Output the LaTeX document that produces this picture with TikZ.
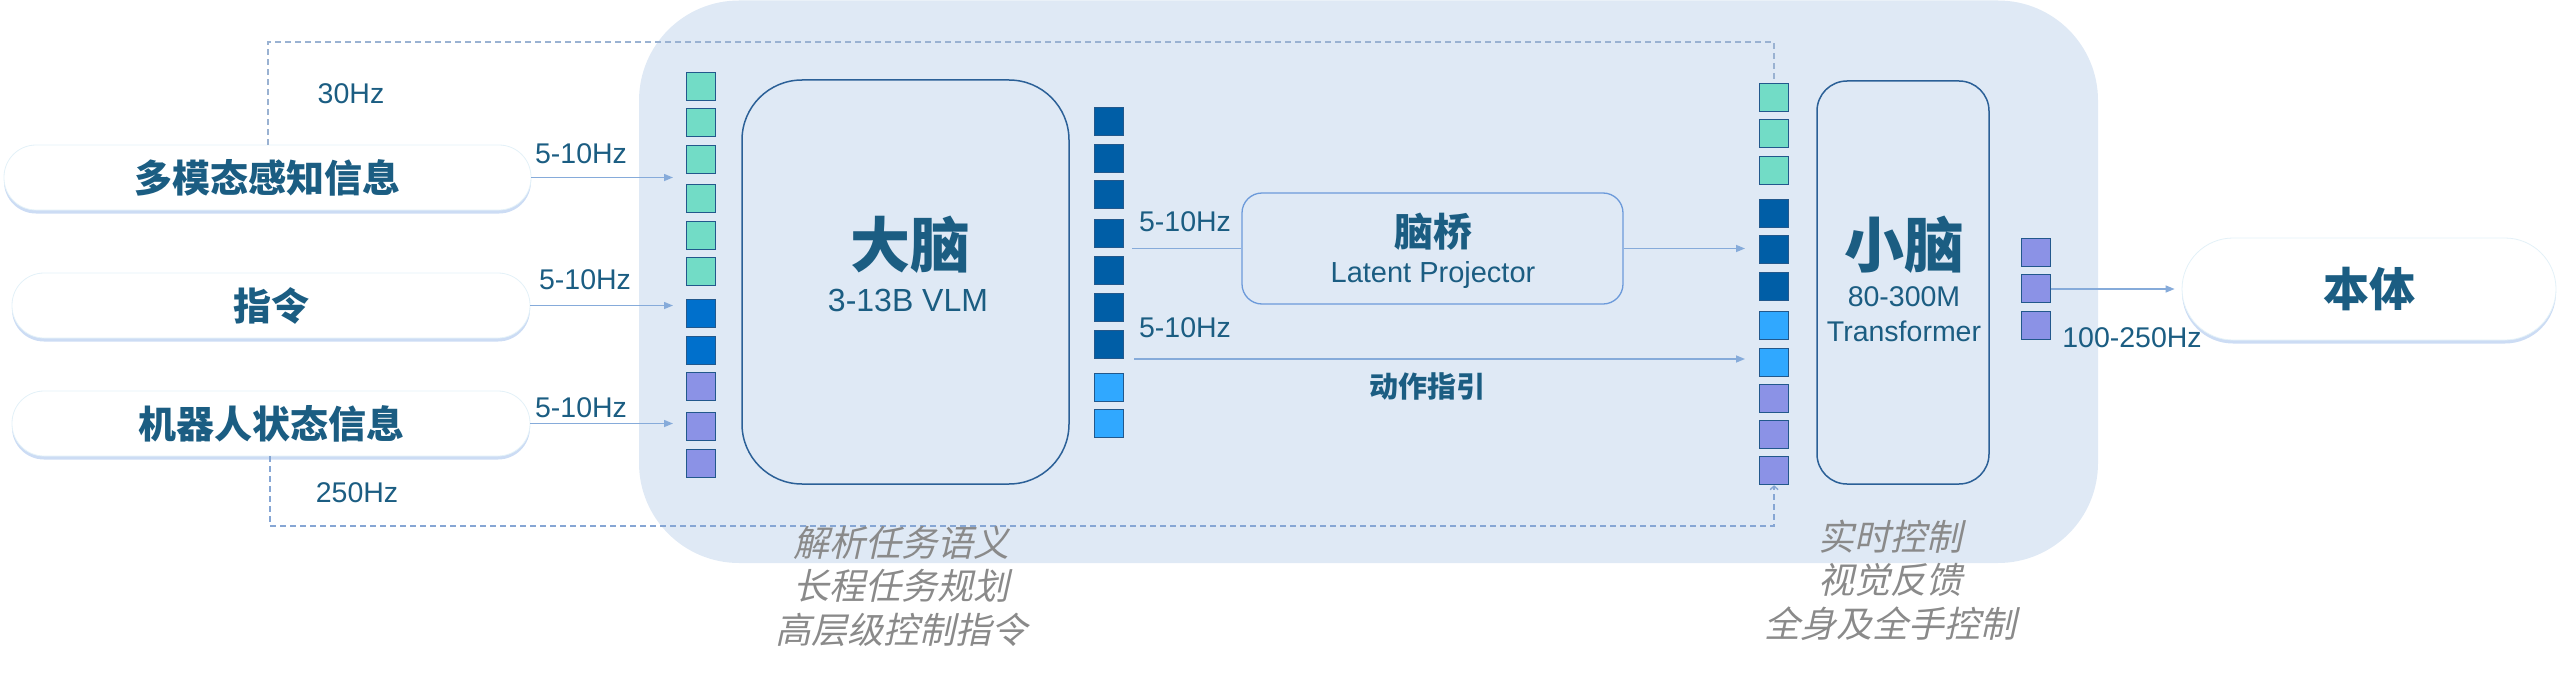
\documentclass[tikz,border=0pt]{standalone}
\usepackage{fontspec}
\setmainfont{Liberation Sans}
\newfontfamily\cjk{Noto Sans CJK SC}
\newfontfamily\cjksl{Noto Sans CJK SC}[FakeSlant=0.22]
\usetikzlibrary{arrows.meta,shadows}
\definecolor{bgc}{HTML}{DFE9F5}
\definecolor{tc}{HTML}{1B5D82}
\definecolor{cteal}{HTML}{72DCC6}
\definecolor{cblue}{HTML}{0070CC}
\definecolor{cpurp}{HTML}{8B92E6}
\definecolor{cdark}{HTML}{005EA6}
\definecolor{clight}{HTML}{30A8FF}
\definecolor{sqb}{HTML}{22588C}
\definecolor{linec}{HTML}{86ABDA}
\definecolor{dasht}{HTML}{9AB2D2}
\definecolor{dashb}{HTML}{86A6D4}
\definecolor{boxc}{HTML}{2B6097}
\definecolor{bridgec}{HTML}{6C9ADA}
\definecolor{greyt}{HTML}{8A8A8A}
\definecolor{pillb}{HTML}{E3F1F8}
\definecolor{shc}{HTML}{CCDCF4}
\begin{document}
\begin{tikzpicture}[x=1pt,y=-1pt,
  sq/.style={draw=sqb, line width=1.2pt, minimum width=29pt, minimum height=28pt, inner sep=0pt, anchor=north west},
  pill/.style={fill=white, draw=pillb, line width=0.8pt, rounded corners=32pt, inner sep=0pt,
    drop shadow={shadow xshift=0pt, shadow yshift=-3.5pt, fill=shc, opacity=1},
    text=tc, font=\cjk\bfseries\fontsize{38}{44}\selectfont},
  lab/.style={text=tc, inner sep=0pt, anchor=base, font=\fontsize{28.5}{34}\selectfont},
  cjkt/.style={text=tc, inner sep=0pt, font=\cjk\bfseries\fontsize{#1}{#1}\selectfont},
  desc/.style={text=greyt, inner sep=0pt, align=center, font=\cjksl\fontsize{36}{43.5}\selectfont},
  arr/.style={draw=linec, line width=1.4pt, -{Triangle[length=9pt,width=7pt]}},
  plain/.style={draw=linec, line width=1.4pt},
  dashl/.style={line width=1.4pt, dash pattern=on 6pt off 4pt},
  bigbox/.style={draw=boxc, line width=1.5pt, inner sep=0pt}
]
\useasboundingbox (0,0) rectangle (2560,677);
% background panel
\fill[bgc, rounded corners=100pt] (639,0.5) rectangle (2098,563);

% pills
\node[pill, minimum width=527pt, minimum height=65pt] (p1) at (267.5,177.5) {多模态感知信息};
\node[pill, minimum width=518pt, minimum height=65pt] (p2) at (271,305.5) {指令};
\node[pill, minimum width=518pt, minimum height=65pt] (p3) at (271,423.5) {机器人状态信息};
\node[pill, minimum width=374pt, minimum height=102pt, rounded corners=51pt,
      font=\cjk\bfseries\fontsize{46}{50}\selectfont] (body) at (2369,289) {本体};

% square columns
\foreach \t/\c [count=\i] in {72/cteal,108/cteal,145/cteal,184/cteal,221/cteal,257/cteal,299/cblue,336/cblue,372/cpurp,412/cpurp,449/cpurp}
  {\node[sq, fill=\c] (lq\i) at (686,\t) {};}
\foreach \t/\c [count=\i] in {107/cdark,144/cdark,180/cdark,219/cdark,256/cdark,293/cdark,330/cdark,373/clight,409/clight}
  {\node[sq, fill=\c] (bq\i) at (1094,\t) {};}
\foreach \t/\c [count=\i] in {83/cteal,119/cteal,156/cteal,199/cdark,235/cdark,272/cdark,311/clight,348/clight,384/cpurp,420/cpurp,456/cpurp}
  {\node[sq, fill=\c] (sq\i) at (1759,\t) {};}
\foreach \t [count=\i] in {238,274,311}
  {\node[sq, fill=cpurp] (oq\i) at (2021,\t) {};}

% dashed feedback lines
\coordinate (dt) at (268,42);
\coordinate (db) at (270,526);
\draw[dashl, draw=dasht] (p1.north -| dt) -- (dt) -- (dt -| sq1.north) -- (sq1.north);
\draw[dashl, draw=dashb, -{Straight Barb[length=3.5pt,width=8pt]}] (p3.south -| db) -- (db) -- (db -| sq11.south) -- (sq11.south);

% boxes
\node[bigbox, rounded corners=60pt, minimum width=327pt, minimum height=404pt] (brain) at (905.5,282) {};
\node[cjkt=60] (brainT) at (910,245) {大脑};
\node[lab, font=\fontsize{32}{38}\selectfont] (brainS) at (908,311) {3-13B VLM};

\node[draw=bridgec, line width=1.3pt, rounded corners=20pt, minimum width=381pt, minimum height=111pt, inner sep=0pt] (bridge) at (1432.5,248.5) {};
\node[cjkt=39] (bridgeT) at (1433,232) {脑桥};
\node[lab, font=\fontsize{29}{34}\selectfont] (bridgeS) at (1433,282) {Latent Projector};

\node[bigbox, rounded corners=30pt, minimum width=172pt, minimum height=403pt] (cereb) at (1903,282.5) {};
\node[cjkt=60] (cerebT) at (1904,245) {小脑};
\node[lab] (cerebS1) at (1904,306) {80-300M};
\node[lab] (cerebS2) at (1904,341) {Transformer};

% connectors
\draw[arr, shorten >=13pt] (p1.east) -- (p1.east -| lq1.west);
\draw[arr, shorten >=13pt] (p2.east) -- (p2.east -| lq1.west);
\draw[arr, shorten >=13pt] (p3.east) -- (p3.east -| lq1.west);
\draw[plain, shorten <=8pt] (bridge.west -| bq1.east) -- (bridge.west);
\draw[arr, shorten >=14pt] (bridge.east) -- (bridge.east -| sq1.west);
\coordinate (gy) at (0,359);
\draw[arr, shorten <=10pt, shorten >=14pt] (bq1.east |- gy) -- (sq1.west |- gy);
\draw[arr, shorten >=7pt] (oq2.east |- body.west) -- (body.west);

% labels
\node[lab] (f30) at (351,103) {30Hz};
\node[lab] (f250) at (357,502) {250Hz};
\node[lab] (fa) at (581,163) {5-10Hz};
\node[lab] (fb) at (585,289) {5-10Hz};
\node[lab] (fc) at (581,417) {5-10Hz};
\node[lab] (fd) at (1185,231) {5-10Hz};
\node[lab] (fe) at (1185,337) {5-10Hz};
\node[lab] (fout) at (2132,347) {100-250Hz};
\node[cjkt=29] (guide) at (1427,386) {动作指引};

% descriptions
\node[desc] (brainD) at (901,586) {解析任务语义\\长程任务规划\\高层级控制指令};
\node[desc] (cerebD) at (1890,580) {实时控制\\视觉反馈\\全身及全手控制};
\end{tikzpicture}
\end{document}
